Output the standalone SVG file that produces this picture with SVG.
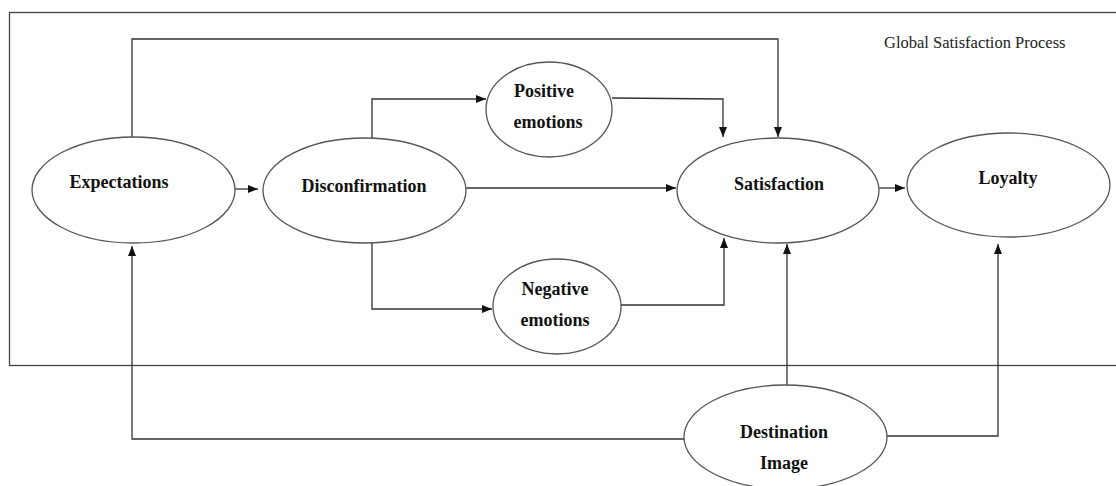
<svg xmlns="http://www.w3.org/2000/svg" width="1116" height="486" viewBox="0 0 1116 486">
  <style>
    .node { fill: #ffffff; stroke: #555555; stroke-width: 1.3; }
    .lbl { font-family: "Liberation Serif", "Times New Roman", serif; font-weight: bold; font-size: 18px; fill: #111111; text-anchor: middle; }
    .title { font-family: "Liberation Serif", "Times New Roman", serif; font-size: 16.5px; fill: #222222; }
    .conn { fill: none; stroke: #333333; stroke-width: 1.3; }
    .frame { fill: none; stroke: #444444; stroke-width: 1.3; }
  </style>
  <defs>
    <marker id="arr" markerUnits="userSpaceOnUse" markerWidth="11" markerHeight="9" refX="10" refY="4" orient="auto">
      <path d="M0,0 L10,4 L0,8 z" fill="#111111"/>
    </marker>
  </defs>
  <rect width="1116" height="486" fill="#ffffff"/>
  <g id="frame">
    <rect class="frame" x="9.5" y="12.5" width="1120" height="353"/>
    <text class="title" x="884" y="48">Global Satisfaction Process</text>
  </g>
  <g id="connectors">
    <polyline class="conn" points="132,137 132,39 778,39 778,137" marker-end="url(#arr)"/>
    <line class="conn" x1="235" y1="189" x2="258" y2="189" marker-end="url(#arr)"/>
    <polyline class="conn" points="372,138 372,99 486,99" marker-end="url(#arr)"/>
    <polyline class="conn" points="612,98 723,99 723,137" marker-end="url(#arr)"/>
    <line class="conn" x1="466" y1="188" x2="676" y2="188" marker-end="url(#arr)"/>
    <polyline class="conn" points="372,243 372,309 492,309" marker-end="url(#arr)"/>
    <polyline class="conn" points="621,305 724,305 724,238" marker-end="url(#arr)"/>
    <line class="conn" x1="879" y1="188" x2="905" y2="188" marker-end="url(#arr)"/>
    <line class="conn" x1="787" y1="385" x2="787" y2="244" marker-end="url(#arr)"/>
    <polyline class="conn" points="684,439 132,439 132,246" marker-end="url(#arr)"/>
    <polyline class="conn" points="887,436 998,436 998,244" marker-end="url(#arr)"/>
  </g>
  <g id="expectations">
    <ellipse class="node" cx="133.5" cy="190" rx="101.5" ry="53"/>
    <text class="lbl" x="119" y="188">Expectations</text>
  </g>
  <g id="disconfirmation">
    <ellipse class="node" cx="364.5" cy="190.5" rx="101.5" ry="52.5"/>
    <text class="lbl" x="364" y="192">Disconfirmation</text>
  </g>
  <g id="positive-emotions">
    <ellipse class="node" cx="549" cy="109.5" rx="63" ry="47.5"/>
    <text class="lbl" x="544" y="97">Positive</text>
    <text class="lbl" x="548" y="128">emotions</text>
  </g>
  <g id="negative-emotions">
    <ellipse class="node" cx="557" cy="306.5" rx="64" ry="47.5"/>
    <text class="lbl" x="555" y="295">Negative</text>
    <text class="lbl" x="555" y="326">emotions</text>
  </g>
  <g id="satisfaction">
    <ellipse class="node" cx="778" cy="190.5" rx="101" ry="52.5"/>
    <text class="lbl" x="779" y="190">Satisfaction</text>
  </g>
  <g id="loyalty">
    <ellipse class="node" cx="1008.5" cy="185" rx="101.5" ry="52"/>
    <text class="lbl" x="1008" y="184">Loyalty</text>
  </g>
  <g id="destination-image">
    <ellipse class="node" cx="785.5" cy="437" rx="101.5" ry="52"/>
    <text class="lbl" x="784" y="438">Destination</text>
    <text class="lbl" x="784" y="469">Image</text>
  </g>
</svg>
